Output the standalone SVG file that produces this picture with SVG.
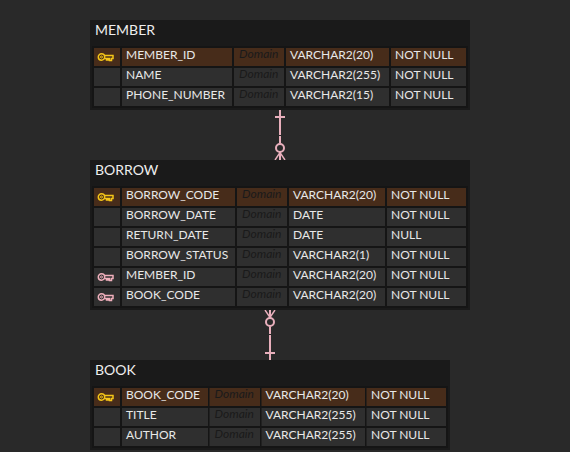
<svg xmlns="http://www.w3.org/2000/svg" width="570" height="452" viewBox="0 0 570 452">
<style>
text{font-family:Lato,"Liberation Sans",sans-serif}
.t{fill:#1a1a1a}.g{fill:#151515}
.ttl{font-size:14px;fill:#eeeeee}
.c{fill:#2f2f2f}.p{fill:#472c1a}
.x{font-size:12px;fill:#e8e8e8}
.d{font-size:12px;font-style:italic;fill:#1a1a1a}
.l{stroke:#e8afbc;stroke-width:2;fill:none}
.f{stroke:#e8afbc;stroke-width:1.4;fill:none}
.kg{fill:none;stroke:#f5c518;stroke-width:1.5}
.kp{fill:none;stroke:#f0b0bc;stroke-width:1.5}
</style>
<defs>
<g id="key"><circle cx="4" cy="0" r="3.2"/><circle cx="4" cy="0" r="1" stroke-width="1"/><path d="M7.2-1.5H15.500V1.500H14V3.500H12V1.500H10.500V3H9V1.500H7.200"/></g>
</defs>
<rect width="570" height="452" fill="#292929"/>
<g id="connectors">
<path class="l" d="M280 110V135M280 136V143.500M275 117H285M280 152V160"/><path class="f" d="M275 160L280 152.500L285 160"/><circle class="l" cx="280" cy="148" r="4"/>
<path class="l" d="M270 310V318M270 326.500V334M270 335V360M265 353H275"/><path class="f" d="M265 310L270 317.500L275 310"/><circle class="l" cx="270" cy="322" r="4"/>
</g>
<g id="member">
<rect class="t" x="90" y="20" width="380" height="90"/><rect class="g" x="92" y="46" width="376" height="62"/>
<text class="ttl" x="95" y="35">MEMBER</text>
<rect class="p" x="94" y="48" width="26" height="18"/><rect class="p" x="122" y="48" width="110" height="18"/><rect class="p" x="234" y="48" width="50" height="18"/><rect class="p" x="286" y="48" width="103" height="18"/><rect class="p" x="391" y="48" width="75" height="18"/>
<rect class="c" x="94" y="68" width="26" height="18"/><rect class="c" x="122" y="68" width="110" height="18"/><rect class="c" x="234" y="68" width="50" height="18"/><rect class="c" x="286" y="68" width="103" height="18"/><rect class="c" x="391" y="68" width="75" height="18"/>
<rect class="c" x="94" y="88" width="26" height="18"/><rect class="c" x="122" y="88" width="110" height="18"/><rect class="c" x="234" y="88" width="50" height="18"/><rect class="c" x="286" y="88" width="103" height="18"/><rect class="c" x="391" y="88" width="75" height="18"/>
<use href="#key" x="97.500" y="57" class="kg"/>
<text class="x" x="126" y="59">MEMBER_ID</text><text class="d" x="239" y="58">Domain</text><text class="x" x="290" y="59">VARCHAR2(20)</text><text class="x" x="395" y="59">NOT NULL</text>
<text class="x" x="126" y="79">NAME</text><text class="d" x="239" y="78">Domain</text><text class="x" x="290" y="79">VARCHAR2(255)</text><text class="x" x="395" y="79">NOT NULL</text>
<text class="x" x="126" y="99">PHONE_NUMBER</text><text class="d" x="239" y="98">Domain</text><text class="x" x="290" y="99">VARCHAR2(15)</text><text class="x" x="395" y="99">NOT NULL</text>
</g>
<g id="borrow">
<rect class="t" x="90" y="160" width="380" height="150"/><rect class="g" x="92" y="186" width="376" height="122"/>
<text class="ttl" x="95" y="175">BORROW</text>
<rect class="p" x="94" y="188" width="26" height="18"/><rect class="p" x="122" y="188" width="113" height="18"/><rect class="p" x="237" y="188" width="50" height="18"/><rect class="p" x="289" y="188" width="96" height="18"/><rect class="p" x="387" y="188" width="79" height="18"/>
<rect class="c" x="94" y="208" width="26" height="18"/><rect class="c" x="122" y="208" width="113" height="18"/><rect class="c" x="237" y="208" width="50" height="18"/><rect class="c" x="289" y="208" width="96" height="18"/><rect class="c" x="387" y="208" width="79" height="18"/>
<rect class="c" x="94" y="228" width="26" height="18"/><rect class="c" x="122" y="228" width="113" height="18"/><rect class="c" x="237" y="228" width="50" height="18"/><rect class="c" x="289" y="228" width="96" height="18"/><rect class="c" x="387" y="228" width="79" height="18"/>
<rect class="c" x="94" y="248" width="26" height="18"/><rect class="c" x="122" y="248" width="113" height="18"/><rect class="c" x="237" y="248" width="50" height="18"/><rect class="c" x="289" y="248" width="96" height="18"/><rect class="c" x="387" y="248" width="79" height="18"/>
<rect class="c" x="94" y="268" width="26" height="18"/><rect class="c" x="122" y="268" width="113" height="18"/><rect class="c" x="237" y="268" width="50" height="18"/><rect class="c" x="289" y="268" width="96" height="18"/><rect class="c" x="387" y="268" width="79" height="18"/>
<rect class="c" x="94" y="288" width="26" height="18"/><rect class="c" x="122" y="288" width="113" height="18"/><rect class="c" x="237" y="288" width="50" height="18"/><rect class="c" x="289" y="288" width="96" height="18"/><rect class="c" x="387" y="288" width="79" height="18"/>
<use href="#key" x="97.500" y="197" class="kg"/><use href="#key" x="97.500" y="277" class="kp"/><use href="#key" x="97.500" y="297" class="kp"/>
<text class="x" x="126" y="199">BORROW_CODE</text><text class="d" x="242" y="198">Domain</text><text class="x" x="293" y="199">VARCHAR2(20)</text><text class="x" x="391" y="199">NOT NULL</text>
<text class="x" x="126" y="219">BORROW_DATE</text><text class="d" x="242" y="218">Domain</text><text class="x" x="293" y="219">DATE</text><text class="x" x="391" y="219">NOT NULL</text>
<text class="x" x="126" y="239">RETURN_DATE</text><text class="d" x="242" y="238">Domain</text><text class="x" x="293" y="239">DATE</text><text class="x" x="391" y="239">NULL</text>
<text class="x" x="126" y="259">BORROW_STATUS</text><text class="d" x="242" y="258">Domain</text><text class="x" x="293" y="259">VARCHAR2(1)</text><text class="x" x="391" y="259">NOT NULL</text>
<text class="x" x="126" y="279">MEMBER_ID</text><text class="d" x="242" y="278">Domain</text><text class="x" x="293" y="279">VARCHAR2(20)</text><text class="x" x="391" y="279">NOT NULL</text>
<text class="x" x="126" y="299">BOOK_CODE</text><text class="d" x="242" y="298">Domain</text><text class="x" x="293" y="299">VARCHAR2(20)</text><text class="x" x="391" y="299">NOT NULL</text>
</g>
<g id="book">
<rect class="t" x="90" y="360" width="360" height="90"/><rect class="g" x="92" y="386" width="356" height="62"/>
<text class="ttl" x="95" y="375">BOOK</text>
<rect class="p" x="94" y="388" width="26" height="18"/><rect class="p" x="122" y="388" width="86" height="18"/><rect class="p" x="209.500" y="388" width="50.500" height="18"/><rect class="p" x="261.500" y="388" width="103.500" height="18"/><rect class="p" x="366.500" y="388" width="79.500" height="18"/>
<rect class="c" x="94" y="408" width="26" height="18"/><rect class="c" x="122" y="408" width="86" height="18"/><rect class="c" x="209.500" y="408" width="50.500" height="18"/><rect class="c" x="261.500" y="408" width="103.500" height="18"/><rect class="c" x="366.500" y="408" width="79.500" height="18"/>
<rect class="c" x="94" y="428" width="26" height="18"/><rect class="c" x="122" y="428" width="86" height="18"/><rect class="c" x="209.500" y="428" width="50.500" height="18"/><rect class="c" x="261.500" y="428" width="103.500" height="18"/><rect class="c" x="366.500" y="428" width="79.500" height="18"/>
<use href="#key" x="97.500" y="397" class="kg"/>
<text class="x" x="126" y="399">BOOK_CODE</text><text class="d" x="214.500" y="398">Domain</text><text class="x" x="265.500" y="399">VARCHAR2(20)</text><text class="x" x="371" y="399">NOT NULL</text>
<text class="x" x="126" y="419">TITLE</text><text class="d" x="214.500" y="418">Domain</text><text class="x" x="265.500" y="419">VARCHAR2(255)</text><text class="x" x="371" y="419">NOT NULL</text>
<text class="x" x="126" y="439">AUTHOR</text><text class="d" x="214.500" y="438">Domain</text><text class="x" x="265.500" y="439">VARCHAR2(255)</text><text class="x" x="371" y="439">NOT NULL</text>
</g>
</svg>
